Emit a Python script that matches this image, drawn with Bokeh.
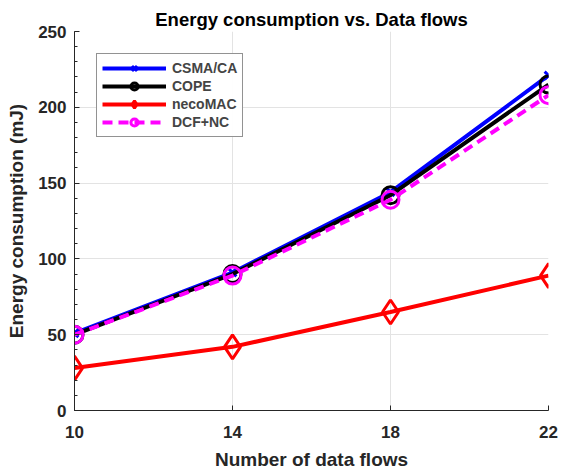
from bokeh.plotting import figure
from bokeh.models import FixedTicker, Legend
from bokeh.embed import file_html
from bokeh.resources import INLINE

flows = [10, 14, 18, 22]
csma = [51, 91, 144, 221]
cope = [50, 90, 142, 215]
neco = [28, 42, 65, 89]
dcfnc = [50, 89, 139, 208]

FONT = "Liberation Sans"

p = figure(width=568, height=472, output_backend="svg", toolbar_location=None,
           x_range=(10, 22), y_range=(0, 250),
           min_border_left=74, min_border_right=20, min_border_top=31, min_border_bottom=61)

p.title.text = "Energy consumption vs. Data flows"
p.title.text_font = FONT
p.title.text_font_size = "18.5px"
p.title.text_font_style = "bold"
p.title.align = "center"
p.title.text_color = "#000000"
p.title.standoff = 4

p.outline_line_color = None
p.background_fill_color = "white"

for ax in (p.xaxis, p.yaxis):
    ax.axis_line_color = "#262626"
    ax.axis_line_width = 1
    ax.major_tick_line_color = "#262626"
    ax.minor_tick_line_color = "#262626"
    ax.major_tick_in = 5
    ax.major_tick_out = 0
    ax.minor_tick_in = 3
    ax.minor_tick_out = 0
    ax.major_label_text_font = FONT
    ax.major_label_text_font_style = "bold"
    ax.major_label_text_font_size = "17px"
    ax.major_label_text_color = "#262626"
    ax.axis_label_text_font = FONT
    ax.axis_label_text_font_style = "bold"
    ax.axis_label_text_font_size = "19px"
    ax.axis_label_text_color = "#262626"

p.xaxis.ticker = FixedTicker(ticks=flows)
p.xaxis.minor_tick_line_color = None
p.yaxis.ticker = FixedTicker(ticks=[0, 50, 100, 150, 200, 250],
                             minor_ticks=list(range(0, 251, 10)))
p.xaxis.axis_label = "Number of data flows"
p.yaxis.axis_label = "Energy consumption (mJ)"
p.xaxis.major_label_standoff = 15
p.xaxis.axis_label_standoff = 8
p.yaxis.major_label_standoff = 8
p.yaxis.axis_label_standoff = 8

p.xgrid.grid_line_color = "#e3e3e3"
p.ygrid.grid_line_color = "#e3e3e3"

lw = 4
r1 = p.line(flows, csma, line_color="blue", line_width=lw)
m1 = p.scatter(flows, csma, marker="x", size=11, line_color="blue", line_width=3)
r2 = p.line(flows, cope, line_color="black", line_width=lw)
m2 = p.scatter(flows, cope, marker="circle", size=17, line_color="black", line_width=3, fill_color=None)
r3 = p.line(flows, neco, line_color="red", line_width=lw)
m3 = p.scatter(flows, neco, marker="diamond", size=24, line_color="red", line_width=3, fill_color=None)
r4 = p.line(flows, dcfnc, line_color="magenta", line_width=lw, line_dash="10 6")
m4 = p.scatter(flows, dcfnc, marker="circle", size=17, line_color="magenta", line_width=3, fill_color=None)

legend = Legend(items=[("CSMA/CA", [r1, m1]), ("COPE", [r2, m2]),
                       ("necoMAC", [r3, m3]), ("DCF+NC", [r4, m4])],
                location="top_left")
legend.label_text_font = FONT
legend.label_text_font_style = "bold"
legend.label_text_font_size = "14px"
legend.glyph_width = 64
legend.glyph_height = 18
legend.label_height = 18
legend.spacing = 0
legend.padding = 5
legend.margin = 22
legend.border_line_color = "#262626"
legend.border_line_width = 1
legend.label_standoff = 6
p.add_layout(legend)

open("out.html", "w").write(file_html(p, INLINE))
